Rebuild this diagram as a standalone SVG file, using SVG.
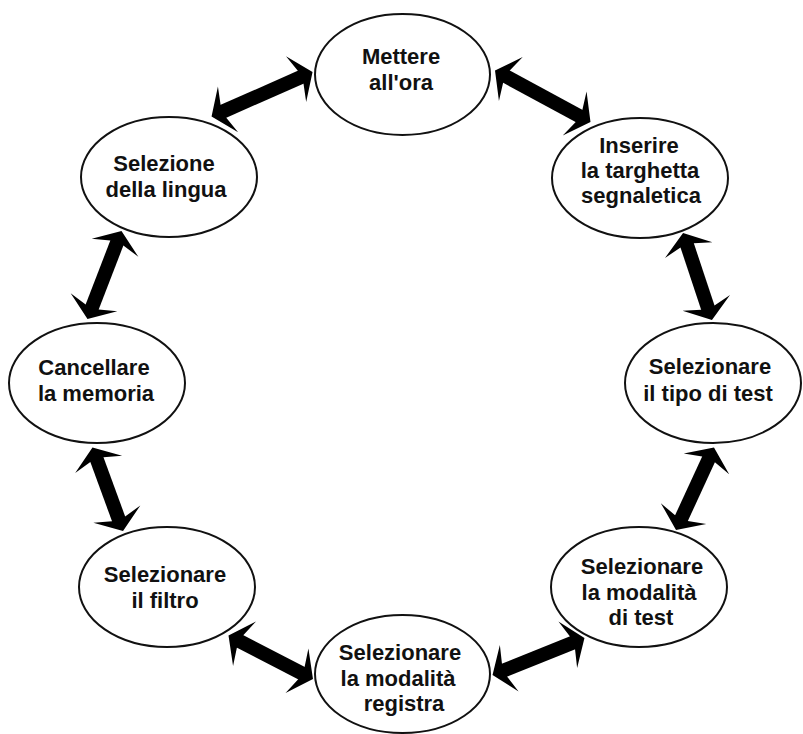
<svg xmlns="http://www.w3.org/2000/svg" width="803" height="734" viewBox="0 0 803 734">
<style>
.node ellipse{fill:#fff;stroke:#111;stroke-width:2}
.node text{font-family:"Liberation Sans",Arial,sans-serif;font-weight:bold;font-size:22px;fill:#111;text-anchor:middle}
.conn line{stroke:#000;stroke-width:14;marker-start:url(#head);marker-end:url(#head)}
</style>
<defs>
<marker id="head" markerUnits="userSpaceOnUse" markerWidth="30" markerHeight="60" refX="11" refY="0" orient="auto-start-reverse" overflow="visible">
<path d="M21,0 L3,25 L8,7 L8,-7 L3,-25 Z" fill="#000"/>
</marker>
</defs>
<rect width="803" height="734" fill="#fff"/>
<g id="connectors" class="conn">
<line x1="220.7" y1="112.5" x2="303.4" y2="76.0"/>
<line x1="503.8" y1="75.2" x2="581.7" y2="117.3"/>
<line x1="686.2" y1="242.5" x2="708.8" y2="310.5"/>
<line x1="709.8" y1="456.6" x2="680.2" y2="520.9"/>
<line x1="501.8" y1="671.3" x2="575.2" y2="641.7"/>
<line x1="237.4" y1="640.1" x2="304.1" y2="674.4"/>
<line x1="95.9" y1="456.9" x2="119.6" y2="521.6"/>
<line x1="117.9" y1="240.3" x2="91.1" y2="309.7"/>
</g>
<g id="n-mettere" class="node">
<ellipse cx="402.5" cy="74.5" rx="87.5" ry="60.5"/>
<text x="401" y="64">Mettere</text>
<text x="401" y="90">all'ora</text>
</g>
<g id="n-inserire" class="node">
<ellipse cx="640" cy="178" rx="88" ry="60"/>
<text x="639" y="153">Inserire</text>
<text x="640" y="178">la targhetta</text>
<text x="641" y="203">segnaletica</text>
</g>
<g id="n-tipo" class="node">
<ellipse cx="713" cy="383" rx="88" ry="60"/>
<text x="710" y="374">Selezionare</text>
<text x="708" y="401">il tipo di test</text>
</g>
<g id="n-modalita-test" class="node">
<ellipse cx="639" cy="587" rx="88" ry="60"/>
<text x="642" y="574">Selezionare</text>
<text x="639" y="600">la modalità</text>
<text x="641" y="625">di test</text>
</g>
<g id="n-registra" class="node">
<ellipse cx="402.5" cy="674" rx="87.5" ry="59"/>
<text x="400" y="660">Selezionare</text>
<text x="398" y="686">la modalità</text>
<text x="404" y="711">registra</text>
</g>
<g id="n-filtro" class="node">
<ellipse cx="167" cy="587" rx="88" ry="60"/>
<text x="165" y="582">Selezionare</text>
<text x="165" y="608">il filtro</text>
</g>
<g id="n-cancellare" class="node">
<ellipse cx="97" cy="383" rx="88" ry="60"/>
<text x="94" y="375">Cancellare</text>
<text x="96" y="401">la memoria</text>
</g>
<g id="n-lingua" class="node">
<ellipse cx="169" cy="177" rx="88" ry="60"/>
<text x="164" y="171">Selezione</text>
<text x="166" y="197">della lingua</text>
</g>
</svg>
